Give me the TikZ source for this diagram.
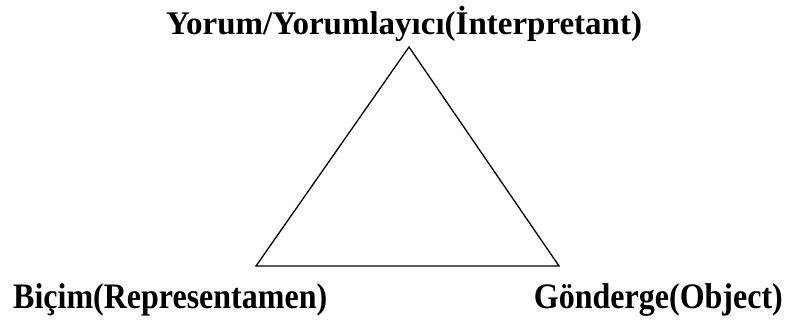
\documentclass[tikz,border=0pt]{standalone}
\usepackage{fontspec}
\setmainfont{Liberation Serif}
\tikzset{
  lbl/.style={inner sep=0pt, font=\fontsize{32}{38}\selectfont\bfseries},
  toplbl/.style={inner sep=0pt, font=\fontsize{33}{39}\selectfont\bfseries},
  edge/.style={line width=1.3pt, line join=miter}
}
\begin{document}
\begin{tikzpicture}[x=1pt,y=-1pt]
\useasboundingbox (0,0) rectangle (790,321);
\coordinate (top) at (409,47);
\coordinate (bl) at (256,266);
\coordinate (br) at (559,266);
\draw[edge] (top) -- (bl) -- (br) -- cycle;
\node[toplbl, anchor=base] (interp) at (404,35) {Yorum/Yorumlayıcı(İnterpretant)};
\node[lbl, anchor=base west] (repr) at (13,308) {\scalebox{1}[1.12]{Biçim(Representamen)}};
\node[lbl, anchor=base east] (obj) at (783,308) {\scalebox{1}[1.12]{Gönderge(Object)}};
\end{tikzpicture}
\end{document}
